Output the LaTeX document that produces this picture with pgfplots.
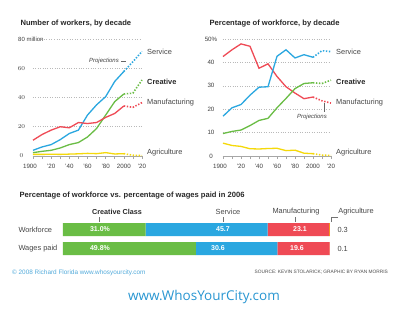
\documentclass[border=0pt]{standalone}
\usepackage{pgfplots}
\pgfplotsset{compat=1.18}
\usepackage{fontspec}
\setmainfont{Liberation Sans}
\newfontfamily\urlfont{Open Sans}
\definecolor{serv}{RGB}{42,167,224}
\definecolor{crea}{RGB}{106,189,69}
\definecolor{manu}{RGB}{239,74,85}
\definecolor{agri}{RGB}{245,217,10}
\definecolor{agribar}{RGB}{245,160,20}
\definecolor{txt}{RGB}{40,40,40}
\definecolor{lbl}{RGB}{70,70,70}
\definecolor{urlblue}{RGB}{40,150,210}
\tikzset{barnum/.style={text=white, font=\fontsize{7}{8}\selectfont\bfseries}}
\pgfplotsset{
  proj/.style={dash pattern=on 1.4pt off 1.6pt, line width=1.6pt},
  linechart/.style={
    scale only axis, anchor=south west, height=117pt,
    xmin=1900, xmax=2020, ymin=0, clip=false,
    axis x line*=bottom, axis y line*=left,
    y axis line style={draw=none},
    x axis line style={draw=gray!70, line width=0.8pt, -},
    ymajorgrids, major grid style={gray!55, dotted, line width=0.6pt},
    ytick style={draw=none},
    xtick={1900,1920,...,2020}, minor xtick={1910,1930,...,2010},
    xtick style={draw=gray!70, line width=0.5pt},
    tick align=outside, major tick length=3pt, minor tick length=3pt,
    xticklabels={\hspace*{-6pt}1900,'20,'40,'60,'80,2000,'20},
    tick label style={font=\fontsize{6.2}{7}\selectfont, text=black!75},
    xticklabel style={yshift=-1.5pt},
    every axis plot/.append style={line width=1.3pt, mark=none},
  }
}
\begin{document}
\begin{tikzpicture}[x=1pt,y=1pt]
\useasboundingbox[fill=white] (0,0) rectangle (400,-333);

% ---------- titles
\node[anchor=west, font=\fontsize{7.6}{9}\selectfont\bfseries, text=txt] at (17,-24) {Number of workers, by decade};
\node[anchor=west, font=\fontsize{7.6}{9}\selectfont\bfseries, text=txt] at (206,-24) {Percentage of workforce, by decade};

% ---------- left chart
\begin{axis}[linechart, at={(33pt,-156pt)}, width=109pt, ymax=80,
  ytick={0,20,40,60}, yticklabel style={anchor=center, xshift=-8.5pt}]
\addplot[serv] coordinates {(1900,3.9) (1910,6.2) (1920,7.8) (1930,11.2) (1940,15.4) (1950,17.7) (1960,28) (1970,35) (1980,40.6) (1990,51) (2000,57.8)};
\addplot[serv, proj] coordinates {(2000,57.8) (2010,64.5) (2020,71.5)};
\addplot[crea] coordinates {(1900,2.3) (1910,3.2) (1920,3.9) (1930,5.5) (1940,7.8) (1950,9.2) (1960,13) (1970,18.8) (1980,28) (1990,37.2) (2000,42.4)};
\addplot[crea, proj] coordinates {(2000,42.4) (2010,43) (2020,52)};
\addplot[manu] coordinates {(1900,10.8) (1910,14.7) (1920,17.7) (1930,20) (1940,19.3) (1950,22.9) (1960,22.2) (1970,22.9) (1980,26.4) (1990,29.1) (2000,34.2)};
\addplot[manu, proj] coordinates {(2000,34.2) (2010,33.3) (2020,36.5)};
\addplot[agri] coordinates {(1900,1.1) (1910,1.1) (1920,1.2) (1930,1.1) (1940,1.3) (1950,1.5) (1960,1.8) (1970,1.6) (1980,2.3) (1990,1.4) (2000,1.6)};
\addplot[agri, proj] coordinates {(2000,1.6) (2010,0.5) (2020,0.3)};
\end{axis}
\node[anchor=west, font=\fontsize{6}{7}\selectfont, text=black!75, inner sep=0pt] at (18,-39) {80 million};
\draw[gray!55, dotted, line width=0.6pt] (41,-39) -- (142,-39);
\node[anchor=east, font=\fontsize{6}{7}\selectfont\itshape, text=black!75, inner sep=0pt] at (119,-61) {Projections};
\draw[black!60, line width=0.4pt] (121,-61) -- (126,-61);

\begin{scope}[every node/.style={anchor=west, inner sep=0pt, text=lbl, font=\fontsize{7.4}{9}\selectfont}]
\node at (147,-52) {Service};
\node[font=\fontsize{7.4}{9}\selectfont\bfseries, text=txt] at (147,-82) {Creative};
\node at (147,-103) {Manufacturing};
\node at (147,-153) {Agriculture};
\node at (336,-52) {Service};
\node[font=\fontsize{7.4}{9}\selectfont\bfseries, text=txt] at (336,-82) {Creative};
\node at (336,-103) {Manufacturing};
\node at (336,-153) {Agriculture};
\end{scope}

% ---------- right chart
\begin{axis}[linechart, at={(223pt,-156pt)}, width=108pt, ymax=50,
  ytick={0,10,...,50}, yticklabels={0,10,20,30,40,50\%},
  yticklabel style={anchor=center, xshift=-9pt}]
\addplot[manu] coordinates {(1900,42.5) (1910,45.4) (1920,47.9) (1930,46.9) (1940,37.5) (1950,39.4) (1960,34) (1970,29.6) (1980,26.9) (1990,24.5) (2000,25.2)};
\addplot[manu, proj] coordinates {(2000,25.2) (2010,23.6) (2020,22.6)};
\addplot[serv] coordinates {(1900,17) (1910,20.6) (1920,22) (1930,26) (1940,29.4) (1950,29.6) (1960,42.6) (1970,45.4) (1980,41.9) (1990,43.3) (2000,42.2)};
\addplot[serv, proj] coordinates {(2000,42.2) (2010,45) (2020,44.6)};
\addplot[crea] coordinates {(1900,9.6) (1910,10.5) (1920,11.1) (1930,13) (1940,15.2) (1950,16.1) (1960,20.6) (1970,24.6) (1980,28.8) (1990,31) (2000,31.3)};
\addplot[crea, proj] coordinates {(2000,31.3) (2010,31) (2020,32.4)};
\addplot[agri] coordinates {(1900,5.5) (1910,4.5) (1920,4.1) (1930,3.1) (1940,3) (1950,3.2) (1960,3.3) (1970,2.3) (1980,2.5) (1990,1.2) (2000,1.0)};
\addplot[agri, proj] coordinates {(2000,1.0) (2010,0.4) (2020,0.2)};
\end{axis}
\node[font=\fontsize{6}{7}\selectfont\itshape, text=black!75, inner sep=0pt] at (312,-117) {Projections};
\draw[black!60, line width=0.4pt] (324,-103) -- (324,-112);

% ---------- bottom bar chart
\node[anchor=west, font=\fontsize{7.6}{9}\selectfont\bfseries, text=txt] at (16,-196) {Percentage of workforce vs. percentage of wages paid in 2006};
\begin{axis}[at={(63pt,-258pt)}, anchor=south west, scale only axis, width=267pt, height=38pt,
  xmin=0, xmax=100.1, ymin=-0.5, ymax=1.5, xbar stacked, bar width=13pt, hide axis, clip=false]
\addplot[fill=crea, draw=none] coordinates {(31.0,1) (49.8,0)};
\addplot[fill=serv, draw=none] coordinates {(45.7,1) (30.6,0)};
\addplot[fill=manu, draw=none] coordinates {(23.1,1) (19.6,0)};
\addplot[fill=agribar, draw=none] coordinates {(0.3,1) (0.1,0)};
\end{axis}
\node[barnum] at (100,-229.5) {31.0\%};
\node[barnum] at (100,-248.5) {49.8\%};
\node[barnum] at (223,-229.5) {45.7};
\node[barnum] at (218,-248.5) {30.6};
\node[barnum] at (300,-229.5) {23.1};
\node[barnum] at (297,-248.5) {19.6};
\begin{scope}[every node/.style={text=lbl, font=\fontsize{7.4}{9}\selectfont}]
\node[anchor=west] at (15,-230) {Workforce};
\node[anchor=west] at (15,-249) {Wages paid};
\node[anchor=west] at (334,-230) {0.3};
\node[anchor=west] at (334,-249) {0.1};
\node[font=\fontsize{7.2}{9}\selectfont\bfseries, text=txt] at (117,-212) {Creative Class};
\node at (228,-212) {Service};
\node at (296,-212) {Manufacturing};
\node at (356,-212) {Agriculture};
\end{scope}
\draw[black!55, line width=0.4pt] (99,-217) -- (99,-222);
\draw[black!55, line width=0.4pt] (223,-217) -- (223,-222);
\draw[black!55, line width=0.4pt] (295,-217) -- (295,-222);
\draw[black!55, line width=0.4pt] (338,-217.5) -- (331,-217.5) -- (331,-222);

% ---------- footer
\node[anchor=west, inner sep=0pt, text=urlblue!80, font=\fontsize{6.4}{7}\selectfont] at (12,-273) {\textcopyright{} 2008 Richard Florida www.whosyourcity.com};
\node[anchor=east, inner sep=0pt, text=black!70, font=\fontsize{4.8}{5}\selectfont] at (388,-272.5) {SOURCE: KEVIN STOLARICK; GRAPHIC BY RYAN MORRIS};
\node[inner sep=0pt, text=urlblue, font=\urlfont\fontsize{13.5}{15}\selectfont] at (204,-297) {www.WhosYourCity.com};
\end{tikzpicture}
\end{document}
